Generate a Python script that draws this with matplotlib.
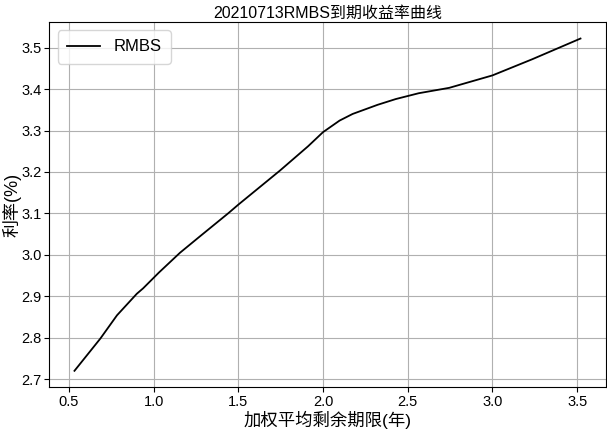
import matplotlib
matplotlib.use("Agg")
import matplotlib.pyplot as plt

plt.rcParams['font.family'] = ['Liberation Sans', 'Noto Sans CJK SC', 'DejaVu Sans']
plt.rcParams['axes.unicode_minus'] = False

x_years = [0.533, 0.686, 0.784, 0.901, 0.938, 1.031, 1.156, 1.272, 1.44, 1.5,
           1.745, 1.912, 2.0, 2.098, 2.175, 2.322, 2.43, 2.565, 2.745, 3.0,
           3.235, 3.52]
y_rate = [2.720, 2.798, 2.854, 2.906, 2.919, 2.957, 3.005, 3.044, 3.100, 3.121,
          3.203, 3.262, 3.296, 3.324, 3.340, 3.362, 3.376, 3.390, 3.403, 3.433,
          3.472, 3.522]

fig = plt.figure(figsize=(6.07, 4.30), dpi=100)
ax = fig.add_axes([0.081, 0.099, 0.917, 0.850])
ax.plot(x_years, y_rate, color='black', linewidth=1.3, label='RMBS')
ax.grid(True, color='#b0b0b0', linewidth=0.8)
ax.set_title('20210713RMBS到期收益率曲线', fontsize=11.5, pad=3)
ax.set_xlabel('加权平均剩余期限(年)', fontsize=12.5, va='bottom')
ax.xaxis.set_label_coords(0.5, -0.113)
ax.set_ylabel('利率(%)', fontsize=13)
ax.yaxis.set_label_coords(-0.05, 0.5)
ax.tick_params(labelsize=10.5, pad=2)
ax.legend(loc='upper left', fontsize=12, borderpad=0.55)
fig.savefig('out.png', dpi=100)
